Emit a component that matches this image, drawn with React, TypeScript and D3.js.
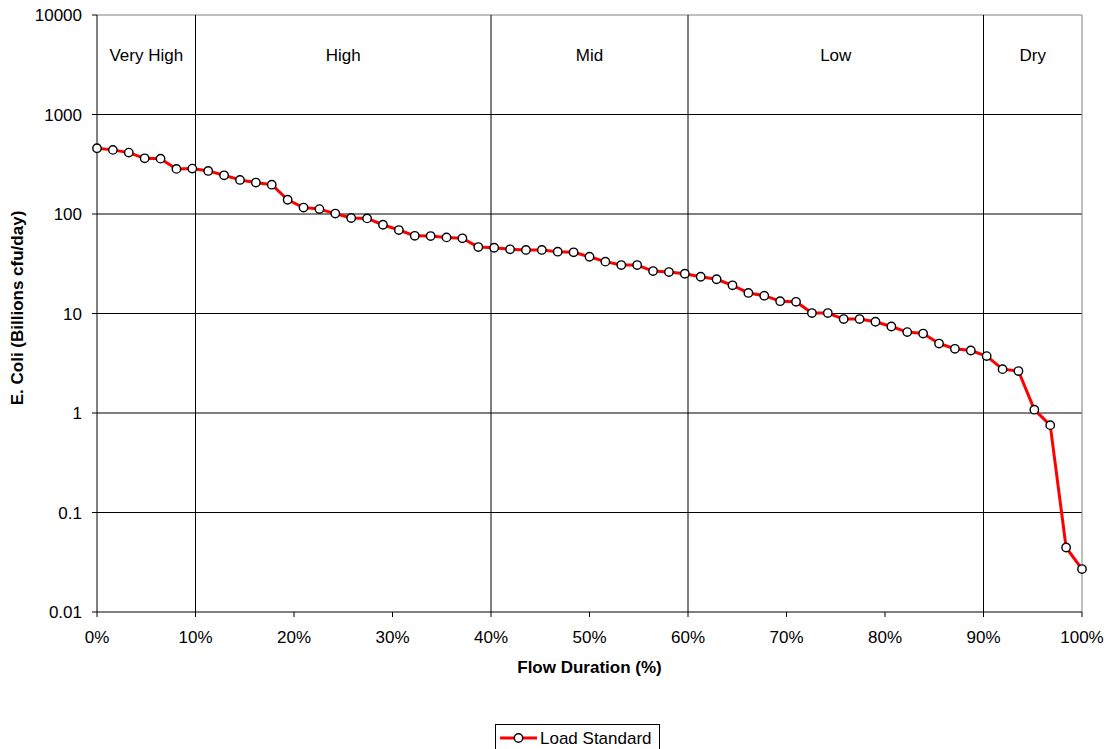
import React from "react";
import * as d3 from "d3";

const flowPct: number[] = Array.from({ length: 63 }, (_, i) => (i / 62) * 100);
const loadValues: number[] = [
  458, 441, 414, 363, 360, 284, 286, 271, 245, 220, 207, 197, 139, 116, 112, 101,
  91.2, 90.3, 78, 69, 60.4, 60, 58.2, 57, 46.5, 45.8, 44.2, 43.5, 43.5, 41.8, 41.2,
  37.2, 33.2, 30.7, 30.7, 26.7, 26.1, 25.1, 23.4, 22.1, 19.2, 16.1, 15.1, 13.3, 13.1,
  10.1, 10.1, 8.79, 8.79, 8.26, 7.4, 6.5, 6.29, 4.99, 4.42, 4.25, 3.73, 2.76, 2.64,
  1.08, 0.755, 0.0445, 0.027,
];
const yTicks: number[] = [0.01, 0.1, 1, 10, 100, 1000, 10000];
const yTickLabels: string[] = ["0.01", "0.1", "1", "10", "100", "1000", "10000"];
const xTicks: number[] = [0, 10, 20, 30, 40, 50, 60, 70, 80, 90, 100];
const zoneBounds: number[] = [0, 10, 40, 60, 90, 100];
const zoneNames: string[] = ["Very High", "High", "Mid", "Low", "Dry"];

const W = 1111;
const H = 749;
const L = 97, R = 1082, T = 15, B = 612;
const FONT = "'Liberation Sans', Arial, sans-serif";
const FS = 17;

export default function App() {
  const x = d3.scaleLinear().domain([0, 100]).range([L, R]);
  const y = d3.scaleLog().domain([0.01, 10000]).range([B, T]);
  const line = d3
    .line<number>()
    .x((_, i) => x(flowPct[i]))
    .y((d) => y(d));

  return (
    <svg
      width={W}
      height={H}
      style={{ position: "absolute", left: 0, top: 0, background: "#fff" }}
      fontFamily={FONT}
    >
      <rect x={0} y={0} width={W} height={H} fill="#fff" />
      {/* horizontal gridlines */}
      {yTicks.slice(1, -1).map((t) => (
        <line key={"g" + t} x1={L} x2={R} y1={y(t)} y2={y(t)} stroke="#000" strokeWidth={1} />
      ))}
      {/* plot border top / right */}
      <line x1={L} x2={R} y1={T} y2={T} stroke="#808080" strokeWidth={1} />
      <line x1={R} x2={R} y1={T} y2={B} stroke="#808080" strokeWidth={1} />
      {/* zone dividers */}
      {zoneBounds.slice(1, -1).map((b) => (
        <line key={"z" + b} x1={x(b)} x2={x(b)} y1={T} y2={B} stroke="#000" strokeWidth={1} />
      ))}
      {/* zone labels */}
      {zoneNames.map((n, i) => (
        <text
          key={n}
          x={(x(zoneBounds[i]) + x(zoneBounds[i + 1])) / 2}
          y={61}
          textAnchor="middle"
          fontSize={FS}
          fill="#000"
        >
          {n}
        </text>
      ))}
      {/* axes */}
      <line x1={L} x2={L} y1={T} y2={B} stroke="#000" strokeWidth={1} />
      <line x1={L} x2={R} y1={B} y2={B} stroke="#000" strokeWidth={1} />
      {yTicks.map((t, i) => (
        <g key={"yt" + t}>
          <line x1={L - 5} x2={L} y1={y(t)} y2={y(t)} stroke="#000" />
          <text x={L - 15} y={y(t) + 6} textAnchor="end" fontSize={FS} fill="#000">
            {yTickLabels[i]}
          </text>
        </g>
      ))}
      {xTicks.map((t) => (
        <g key={"xt" + t}>
          <line x1={x(t)} x2={x(t)} y1={B} y2={B + 5} stroke="#000" />
          <text x={x(t)} y={643} textAnchor="middle" fontSize={FS} fill="#000">
            {t + "%"}
          </text>
        </g>
      ))}
      <text x={(L + R) / 2} y={673} textAnchor="middle" fontSize={FS} fontWeight="bold" fill="#000">
        Flow Duration (%)
      </text>
      <text
        transform={`translate(23,308) rotate(-90)`}
        textAnchor="middle"
        fontSize={FS}
        fontWeight="bold"
        fill="#000"
      >
        E. Coli (Billions cfu/day)
      </text>
      {/* series */}
      <path d={line(loadValues) || ""} fill="none" stroke="#ff0000" strokeWidth={3} strokeLinejoin="round" />
      {loadValues.map((v, i) => (
        <circle key={"p" + i} cx={x(flowPct[i])} cy={y(v)} r={4.2} fill="#fff" stroke="#000" strokeWidth={1.4} />
      ))}
      {/* legend */}
      <rect x={495.5} y={724.5} width={164} height={30} fill="#fff" stroke="#000" strokeWidth={1} />
      <line x1={500} x2={537} y1={738} y2={738} stroke="#ff0000" strokeWidth={3} />
      <circle cx={518.5} cy={738} r={4.2} fill="#fff" stroke="#000" strokeWidth={1.4} />
      <text x={540} y={744} fontSize={FS} fill="#000">
        Load Standard
      </text>
    </svg>
  );
}
